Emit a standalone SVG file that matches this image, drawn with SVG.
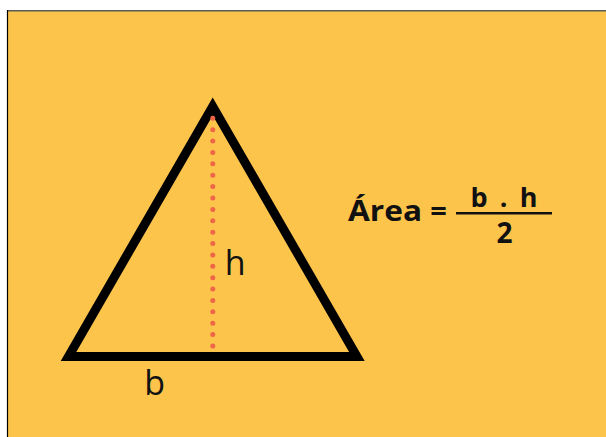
<svg xmlns="http://www.w3.org/2000/svg" width="606" height="437" viewBox="0 0 606 437">
<style>
.lbl{font-family:"Open Sans","Liberation Sans",sans-serif;fill:#111;}
.reg{font-weight:400;font-size:34px;}
.bold{font-weight:700;}
</style>
<rect x="0" y="0" width="606" height="437" fill="#ffffff"/>
<rect x="7" y="10" width="599" height="427" fill="#FDC44C"/>
<line x1="7" y1="10.7" x2="606" y2="10.7" stroke="#5a5a5a" stroke-width="1.6"/>
<line x1="7.5" y1="10" x2="7.5" y2="437" stroke="#000" stroke-width="1.2"/>
<g id="triangle">
<polygon points="212.7,106.5 68.5,356.4 356.9,356.4" fill="none" stroke="#000" stroke-width="9" stroke-linejoin="miter" stroke-miterlimit="10"/>
</g>
<g id="connectors">
<line x1="212.8" y1="118.3" x2="212.8" y2="347.5" stroke="#EF6548" stroke-width="5" stroke-linecap="round" stroke-dasharray="0 11.385"/>
</g>
<g id="labels">
<text class="lbl reg" x="235.3" y="275" text-anchor="middle">h</text>
<text class="lbl reg" x="154.7" y="395" text-anchor="middle">b</text>
</g>
<g id="formula">
<text class="lbl bold" x="348" y="220.5" font-size="29" textLength="74" lengthAdjust="spacingAndGlyphs">Área</text>
<text class="lbl bold" x="438.5" y="220.5" font-size="29" text-anchor="middle">=</text>
<line x1="456" y1="213.3" x2="552" y2="213.3" stroke="#111" stroke-width="2.5"/>
<text class="lbl bold" x="470.5" y="206.7" font-size="27" textLength="67" lengthAdjust="spacing">b . h</text>
<text class="lbl bold" x="504.5" y="243.3" font-size="28" text-anchor="middle">2</text>
</g>
</svg>
